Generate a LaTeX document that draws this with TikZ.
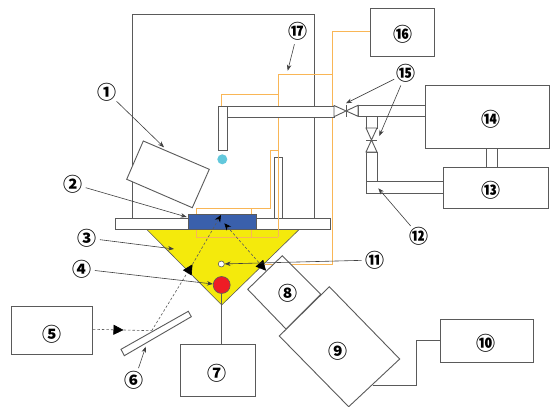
\documentclass[tikz,border=0pt]{standalone}
\usepackage{fontspec}
\newfontfamily\circfont{Noto Sans CJK JP}
\usetikzlibrary{arrows.meta}
\definecolor{lineg}{HTML}{5A5A5A}
\definecolor{orng}{HTML}{F9B656}
\definecolor{yel}{HTML}{F4EA0C}
\definecolor{blu}{HTML}{3A60AC}
\definecolor{rd}{HTML}{EE1C25}
\definecolor{cy}{HTML}{62C8DC}
\tikzset{
  part/.style={draw=lineg,line width=0.9pt,fill=white},
  boxn/.style={part,rectangle,inner sep=0pt,anchor=north west,minimum width=#1},
  lab/.style={circle,inner sep=0pt,minimum size=19pt,font=\circfont\bfseries\fontsize{19}{19}\selectfont},
  wire/.style={draw=lineg,line width=0.9pt},
  heat/.style={draw=orng,line width=0.9pt},
  ptr/.style={draw=black!75,line width=0.6pt,-{Stealth[length=6pt,width=4.5pt]}},
  beam/.style={draw=lineg,line width=0.6pt,dash pattern=on 2.5pt off 2pt},
  beamtip/.style={beam,-{Triangle[length=10pt,width=10pt,fill=black,color=black]}},
  bothtip/.style={beam,{Stealth[length=7pt,width=6pt,fill=black,color=black]}-{Triangle[length=10pt,width=10pt,fill=black,color=black]}},
  endtip/.style={beam,-{Stealth[length=7pt,width=6pt,fill=black,color=black]}}
}
\begin{document}
\begin{tikzpicture}[x=1pt,y=-1pt]
\useasboundingbox (0,0) rectangle (550,407);
\fill[white] (0,0) rectangle (550,407);
% chamber
\draw[wire] (132.7,218) -- (132.7,14) -- (314,14) -- (314,218);
% triangle
\fill[yel] (146,228.7) -- (300,228.7) -- (221.7,305) -- cycle;
\draw[wire,line width=0.6pt] (146,228.7) -- (221.7,305) -- (300,228.7);
% plate
\node[boxn=215pt,minimum height=11pt] (plate) at (115,217.7) {};
% tube
\node[boxn=7.4pt,minimum height=60.4pt] (tube) at (274.3,157.3) {};
% heater wiring
\draw[heat] (370,31.7) -- (332.7,31.7) -- (332.7,264) -- (265,264);
\draw[heat] (332.7,74) -- (278,74) -- (278,237.3);
\draw[heat] (278,94.3) -- (221.7,94.3) -- (221.7,112);
\draw[heat] (278,150) -- (270,150) -- (270,208) -- (196,208) -- (196,237.3) -- (278,237.3);
\draw[heat] (251,208) -- (251,237.3);
% sample
\node[draw=lineg,line width=0.8pt,fill=blu,rectangle,inner sep=0pt,anchor=north west,minimum width=67.4pt,minimum height=14.4pt] (sample) at (188.3,214.3) {};
% nozzle and pipes
\node[boxn=9pt,minimum height=44.3pt] (nozv) at (217.7,105.7) {};
\node[boxn=107.3pt,minimum height=11pt] (nozh) at (226.7,105.7) {};
\node[boxn=67pt,minimum height=11pt] (pipea) at (358,105.3) {};
\node[boxn=11pt,minimum height=12pt] (pipeb) at (366,116.3) {};
\node[boxn=11pt,minimum height=29pt] (pipec) at (366,152) {};
\node[boxn=77pt,minimum height=11.5pt] (piped) at (366,181) {};
\node[boxn=11pt,minimum height=20pt] (linkn) at (486,147) {};
% valves
\draw[part] (334,105.5) -- (358,116.3) -- (358,105.3) -- (334,116.7) -- cycle;
\draw[wire] (346,105) -- (346,117);
\draw[part] (366,128) -- (377,152) -- (366,152) -- (377,128) -- cycle;
\draw[wire] (366,140) -- (377,140);
% droplet, lamps
\node[circle,fill=cy,inner sep=0pt,minimum size=10pt] (drop) at (222.3,159.3) {};
\node[circle,draw=lineg,line width=0.6pt,fill=rd,inner sep=0pt,minimum size=17pt] (lamp) at (221.7,285) {};
\node[circle,draw=lineg,line width=0.6pt,fill=white,inner sep=0pt,minimum size=6pt] (tc) at (221.3,264) {};
% boxes
\node[boxn=80.7pt,minimum height=48.6pt] (b5) at (11.3,305.7) {};
\node[boxn=75pt,minimum height=51.7pt] (b7) at (180,344.3) {};
\node[boxn=93pt,minimum height=43.6pt] (b10) at (439.7,318.7) {};
\node[boxn=105pt,minimum height=41pt] (b13) at (443,167) {};
\node[boxn=124pt,minimum height=62.7pt] (b14) at (425,85) {};
\node[boxn=64pt,minimum height=48pt] (b16) at (370,8) {};
% tilted parts
\draw[part] (143.3,141) -- (209.3,169.3) -- (192.3,207.7) -- (126.7,179.3) -- cycle;
\draw[part] (121,349.3) -- (188.3,311.3) -- (191.3,316.7) -- (124.3,355.7) -- cycle;
\draw[part] (282.3,255.7) -- (247.7,289.3) -- (286,329) -- (320.7,294.3) -- cycle;
\draw[part] (329.3,286.7) -- (279.3,336) -- (348.7,406.7) -- (399.7,359) -- cycle;
% wires
\coordinate (w9) at (373.3,385);
\draw[wire] (b10.west |- 0,340.3) -- (416.7,340.3) -- (416.7,385) -- (w9);
\draw[wire] (lamp.south) -- (lamp.south |- b7.north);
% beams
\coordinate (bmirror) at (151.7,330.7);
\coordinate (bmid) at (123.5,330);
\coordinate (btop) at (221,215);
\coordinate (bup) at (192.5,264.3);
\coordinate (bs) at (224.3,223.3);
\coordinate (bd) at (266,270.7);
\draw[beamtip] (b5.east |- 0,329.3) -- (bmid);
\draw[beam] (bmid) -- (bmirror);
\draw[beamtip] (bmirror) -- (bup);
\draw[endtip] (bup) -- (btop);
\draw[bothtip] (bs) -- (bd);
% labels
\node[lab] (l1) at (107,92) {①};
\node[lab] (l2) at (73,184) {②};
\node[lab] (l3) at (86.7,238) {③};
\node[lab] (l4) at (81.7,269) {④};
\node[lab] (l5) at (51.7,334) {⑤};
\node[lab] (l6) at (134.3,380.7) {⑥};
\node[lab] (l7) at (217.3,373.3) {⑦};
\node[lab] (l8) at (288.3,293.3) {⑧};
\node[lab] (l9) at (338.3,351.7) {⑨};
\node[lab] (l10) at (486,343.3) {⑩};
\node[lab] (l11) at (375,260) {⑪};
\node[lab] (l12) at (419.3,236) {⑫};
\node[lab] (l13) at (491,190) {⑬};
\node[lab] (l14) at (490.7,119.3) {⑭};
\node[lab] (l15) at (406,73.3) {⑮};
\node[lab] (l16) at (403.3,34) {⑯};
\node[lab] (l17) at (297.7,31.3) {⑰};
% pointers
\coordinate (t1) at (164,147.3);
\coordinate (t2) at (186.7,217);
\coordinate (t3) at (174,249);
\coordinate (t6) at (145.7,346.7);
\coordinate (t12) at (378.3,188.3);
\coordinate (t15a) at (346,103.3);
\coordinate (t15b) at (379.3,136);
\coordinate (t17) at (287.7,70.7);
\draw[ptr] (l1) -- (t1);
\draw[ptr] (l2) -- (t2);
\draw[ptr] (l3) -- (t3);
\draw[ptr] (l4) -- (lamp);
\draw[ptr] (l6) -- (t6);
\draw[ptr] (l11) -- (tc);
\draw[ptr] (l12) -- (t12);
\draw[ptr] (l15) -- (t15a);
\draw[ptr] (l15) -- (t15b);
\draw[ptr] (l17) -- (t17);
\end{tikzpicture}
\end{document}
